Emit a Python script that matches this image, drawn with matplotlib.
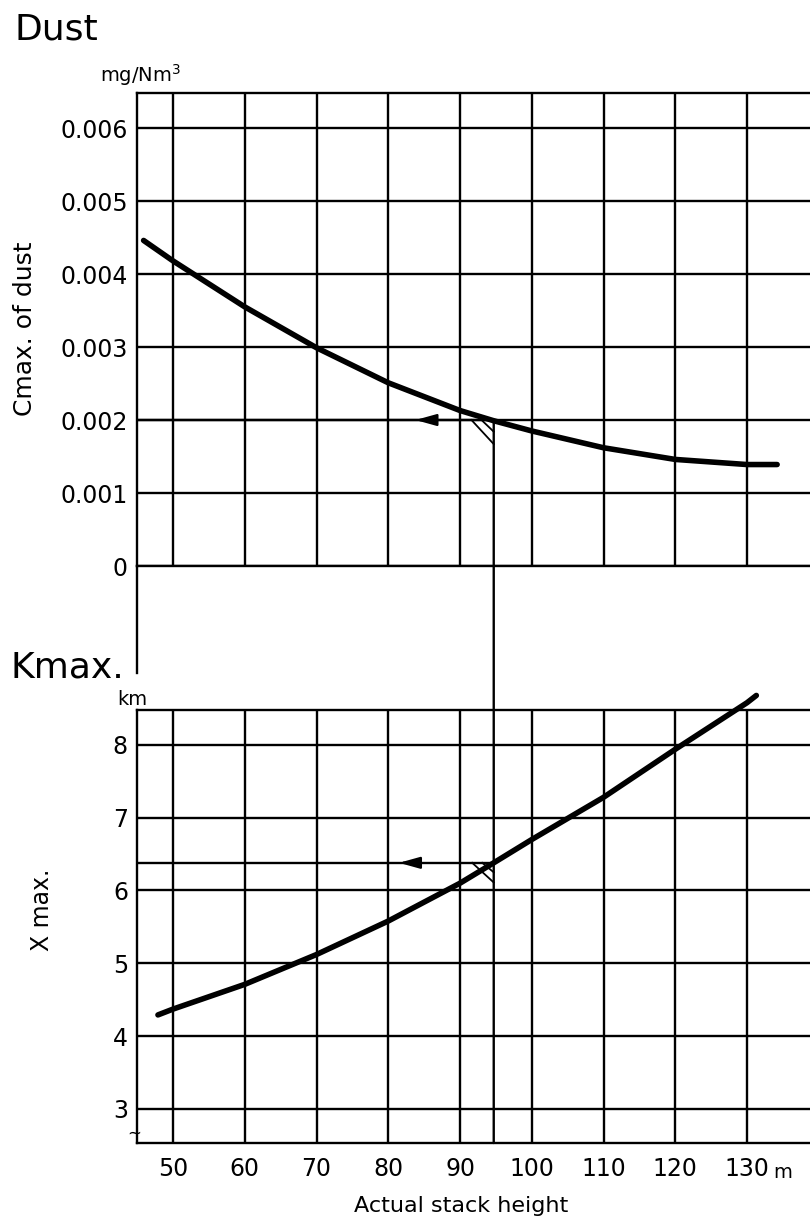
import matplotlib
matplotlib.use("Agg")
import matplotlib.pyplot as plt
from matplotlib.patches import ConnectionPatch
from matplotlib.lines import Line2D

plt.rcParams['font.family'] = ['DejaVu Sans']

# ---- data ----
height_ticks = [50, 60, 70, 80, 90, 100, 110, 120, 130]
height_tick_labels = ["50", "60", "70", "80", "90", "100", "110", "120", "130"]
dust_ticks = [0, 0.001, 0.002, 0.003, 0.004, 0.005, 0.006]
dust_tick_labels = ["0", "0.001", "0.002", "0.003", "0.004", "0.005", "0.006"]
xmax_ticks = [3, 4, 5, 6, 7, 8]
xmax_tick_labels = ["3", "4", "5", "6", "7", "8"]

dust_height = [45.9, 50, 60, 70, 80, 90, 94.7, 100, 110, 120, 130, 134.2]
dust_cmax = [0.00446, 0.00418, 0.00355, 0.00299, 0.00251, 0.00213, 0.00199,
             0.00185, 0.00162, 0.00146, 0.00139, 0.00139]

xmax_height = [47.9, 50, 60, 70, 80, 90, 94.7, 100, 110, 120, 130, 131.3]
xmax_km = [4.29, 4.37, 4.71, 5.12, 5.58, 6.10, 6.38, 6.70, 7.28, 7.94, 8.58, 8.68]

chosen_height = 94.7
chosen_cmax = 0.002
chosen_xmax = 6.38
arrow_tip_top = 83.4
arrow_tip_bottom = 81.1

# ---- layout ----
W, H = 810, 1226
fig = plt.figure(figsize=(W / 100, H / 100), dpi=100)

def fx(px):
    return px / W

def fy(py):
    return 1 - py / H

LW = 1.7
xlim = (44.98, 138.78)

ax1 = fig.add_axes([fx(137), fy(566), 1 - fx(137), (566 - 93) / H])
ax2 = fig.add_axes([fx(137), fy(1143), 1 - fx(137), (1143 - 710) / H])

for ax in (ax1, ax2):
    ax.set_xlim(*xlim)
    ax.set_xticks(height_ticks)
    for side in ("left", "top", "bottom"):
        ax.spines[side].set_linewidth(LW)
        ax.spines[side].set_color("black")
    ax.spines["right"].set_visible(False)
    ax.grid(True, color="black", linewidth=LW)
    ax.set_axisbelow(True)
    ax.tick_params(length=0, labelsize=17, pad=6.5)

ax1.set_ylim(0, 0.00648)
ax1.set_yticks(dust_ticks)
ax1.set_yticklabels(dust_tick_labels)
ax1.tick_params(axis="x", labelbottom=False)

ax2.set_ylim(2.53, 8.48)
ax2.set_yticks(xmax_ticks)
ax2.set_yticklabels(xmax_tick_labels)
ax2.set_xticklabels(height_tick_labels)
ax2.tick_params(axis="x", pad=10)

# curves
ax1.plot(dust_height, dust_cmax, color="black", lw=4, solid_capstyle="round", zorder=5)
ax2.plot(xmax_height, xmax_km, color="black", lw=4, solid_capstyle="round",
         zorder=5, clip_on=False)

# reading lines
ax1.plot([xlim[0], chosen_height], [chosen_cmax, chosen_cmax], color="black", lw=LW)
ax2.plot([xlim[0], chosen_height], [chosen_xmax, chosen_xmax], color="black", lw=LW)
ax1.annotate("", xy=(arrow_tip_top, chosen_cmax), xytext=(arrow_tip_top + 2.5, chosen_cmax),
             arrowprops=dict(arrowstyle="-|>,head_length=0.9,head_width=0.25",
                             color="black", lw=LW, mutation_scale=14))
ax2.annotate("", xy=(arrow_tip_bottom, chosen_xmax), xytext=(arrow_tip_bottom + 2.5, chosen_xmax),
             arrowprops=dict(arrowstyle="-|>,head_length=0.9,head_width=0.25",
                             color="black", lw=LW, mutation_scale=14))

# vertical drop line through both panels
con = ConnectionPatch(xyA=(chosen_height, chosen_cmax), coordsA="data", axesA=ax1,
                      xyB=(chosen_height, ax2.get_ylim()[0]), coordsB="data", axesB=ax2,
                      color="black", lw=LW)
fig.add_artist(con)

# small wedge marks at the intersections
ax1.plot([chosen_height - 3.1, chosen_height], [chosen_cmax, chosen_cmax - 0.00033], color="black", lw=1.3)
ax1.plot([chosen_height - 1.7, chosen_height], [chosen_cmax, chosen_cmax - 0.00016], color="black", lw=1.3)
ax2.plot([chosen_height - 3.0, chosen_height], [chosen_xmax, chosen_xmax - 0.27], color="black", lw=1.3)
ax2.plot([chosen_height - 1.6, chosen_height], [chosen_xmax, chosen_xmax - 0.13], color="black", lw=1.3)

# left spine extension below the upper panel
fig.add_artist(Line2D([fx(137), fx(137)], [fy(566), fy(673)], color="black", lw=LW))

# texts
fig.text(fx(15), fy(40), "Dust", fontsize=26, ha="left", va="baseline")
fig.text(fx(10), fy(678), "Kmax.", fontsize=26, ha="left", va="baseline")
fig.text(fx(100), fy(82), "mg/Nm$^3$", fontsize=14, ha="left", va="baseline")
fig.text(fx(117), fy(705), "km", fontsize=14, ha="left", va="baseline")
fig.text(fx(25), fy(329), "Cmax. of dust", fontsize=18, rotation=90, ha="center", va="center")
fig.text(fx(42), fy(910), "X max.", fontsize=17, rotation=90, ha="center", va="center")
fig.text(fx(461), fy(1206), "Actual stack height", fontsize=16, ha="center", va="center")
fig.text(fx(773), fy(1172), "m", fontsize=14, ha="left", va="center")
fig.text(fx(134), fy(1134), "~", fontsize=12, ha="center", va="center")

fig.savefig("out.png", dpi=100)
